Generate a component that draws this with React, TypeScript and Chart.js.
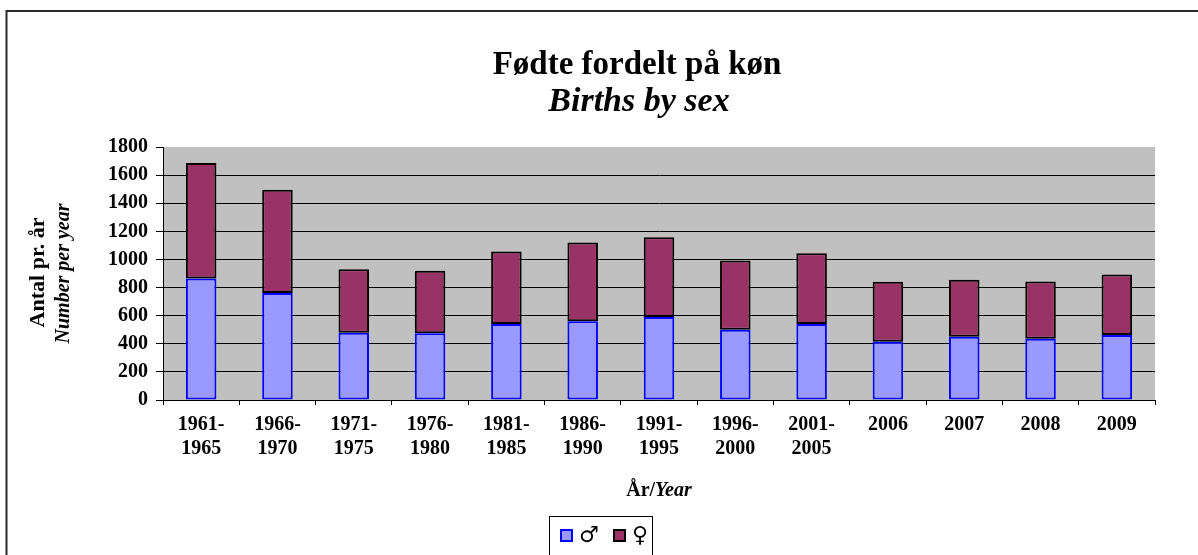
import React, { useEffect, useRef } from "react";
import { Chart, registerables } from "chart.js";

Chart.register(...registerables);

const categories: (string | string[])[] = [
  ["1961-", "1965"],
  ["1966-", "1970"],
  ["1971-", "1975"],
  ["1976-", "1980"],
  ["1981-", "1985"],
  ["1986-", "1990"],
  ["1991-", "1995"],
  ["1996-", "2000"],
  ["2001-", "2005"],
  "2006",
  "2007",
  "2008",
  "2009",
];
const male = [865, 762, 478, 475, 540, 561, 590, 500, 540, 414, 450, 436, 462];
const female = [822, 733, 452, 444, 516, 559, 568, 492, 504, 428, 405, 407, 430];
const seriesLabels = ["♂", "♀"];
const titleLines = ["Fødte fordelt på køn", "Births by sex"];
const yTitleLines = ["Antal pr. år", "Number per year"];
const xTitleParts = ["År/", "Year"];

const SERIF = '"Liberation Serif", "Times New Roman", serif';

const decorPlugin = {
  id: "decor",
  beforeDraw(chart: any) {
    const { ctx, chartArea, width, height } = chart;
    ctx.save();
    ctx.fillStyle = "#ffffff";
    ctx.fillRect(0, 0, width, height);
    ctx.fillStyle = "#C0C0C0";
    ctx.fillRect(chartArea.left, chartArea.top, chartArea.right - chartArea.left, chartArea.bottom - chartArea.top);
    ctx.restore();
  },
  afterDraw(chart: any) {
    const { ctx, chartArea } = chart;
    ctx.save();
    // outer border
    ctx.strokeStyle = "#2a2a2a";
    ctx.lineWidth = 2;
    ctx.beginPath();
    ctx.moveTo(6.5, 560);
    ctx.lineTo(6.5, 11);
    ctx.lineTo(1210, 11);
    ctx.stroke();

    // titles
    ctx.fillStyle = "#000";
    ctx.textAlign = "center";
    ctx.textBaseline = "alphabetic";
    ctx.font = `bold 33px ${SERIF}`;
    ctx.fillText(titleLines[0], 637, 74);
    ctx.font = `italic bold 34px ${SERIF}`;
    ctx.fillText(titleLines[1], 639, 111);

    // y title
    const cy = (chartArea.top + chartArea.bottom) / 2;
    ctx.save();
    ctx.translate(38, cy - 1);
    ctx.rotate(-Math.PI / 2);
    ctx.textBaseline = "middle";
    ctx.font = `bold 22px ${SERIF}`;
    ctx.fillText(yTitleLines[0], 0, 0);
    ctx.restore();
    ctx.save();
    ctx.translate(64, cy);
    ctx.rotate(-Math.PI / 2);
    ctx.textBaseline = "middle";
    ctx.font = `italic bold 20px ${SERIF}`;
    ctx.fillText(yTitleLines[1], 0, 0);
    ctx.restore();

    // x title
    const cx = (chartArea.left + chartArea.right) / 2;
    ctx.font = `bold 20px ${SERIF}`;
    const w1 = ctx.measureText(xTitleParts[0]).width;
    ctx.font = `italic bold 20px ${SERIF}`;
    const w2 = ctx.measureText(xTitleParts[1]).width;
    const x0 = cx - (w1 + w2) / 2;
    ctx.textAlign = "left";
    ctx.textBaseline = "alphabetic";
    ctx.font = `bold 20px ${SERIF}`;
    ctx.fillText(xTitleParts[0], x0, 496);
    ctx.font = `italic bold 20px ${SERIF}`;
    ctx.fillText(xTitleParts[1], x0 + w1, 496);

    // legend
    const ds = chart.data.datasets;
    ctx.strokeStyle = "#000";
    ctx.lineWidth = 1;
    ctx.strokeRect(549.5, 516.5, 103, 40);
    const items = [
      { bx: 560, tx: 579 },
      { bx: 613, tx: 632 },
    ];
    items.forEach((it, i) => {
      ctx.fillStyle = ds[i].backgroundColor;
      ctx.fillRect(it.bx, 529, 13, 13);
      ctx.strokeStyle = ds[i].borderColor;
      ctx.lineWidth = 2;
      ctx.strokeRect(it.bx + 1, 530, 11, 11);
      ctx.fillStyle = "#000";
      ctx.font = `22px "DejaVu Sans", sans-serif`;
      ctx.textBaseline = "middle";
      ctx.textAlign = "left";
      ctx.fillText(ds[i].label, it.tx, 536);
    });
    ctx.restore();
  },
};

export default function App() {
  const ref = useRef<HTMLCanvasElement | null>(null);
  useEffect(() => {
    document.body.style.margin = "0";
    const canvas = ref.current!;
    const chart = new Chart(canvas, {
      type: "bar",
      data: {
        labels: categories,
        datasets: [
          {
            label: seriesLabels[0],
            data: male,
            backgroundColor: "#9999FF",
            borderColor: "#0000FF",
            borderWidth: 2,
            borderSkipped: false,
          },
          {
            label: seriesLabels[1],
            data: female,
            backgroundColor: "#993366",
            borderColor: "#000000",
            borderWidth: 2,
            borderSkipped: false,
          },
        ],
      },
      options: {
        responsive: false,
        animation: false,
        layout: { padding: { left: 0, right: 43, top: 147, bottom: 0 } },
        datasets: { bar: { barPercentage: 0.4, categoryPercentage: 1.0 } },
        plugins: {
          legend: { display: false },
          title: { display: false },
          tooltip: { enabled: false },
        },
        scales: {
          x: {
            stacked: true,
            afterFit: (s: any) => {
              s.height = 155;
            },
            grid: {
              offset: true,
              drawOnChartArea: false,
              drawTicks: true,
              tickLength: 5,
              tickColor: "#000",
            },
            border: { display: true, color: "#000", width: 1 },
            ticks: {
              color: "#000",
              padding: 8,
              maxRotation: 0,
              autoSkip: false,
              font: { family: SERIF, size: 20, weight: "bold", lineHeight: 1.2 },
            },
          },
          y: {
            stacked: true,
            min: 0,
            max: 1800,
            afterFit: (s: any) => {
              s.width = 163;
            },
            grid: {
              color: (c: any) => (c.tick && c.tick.value === 1800 ? "rgba(0,0,0,0)" : "#000"),
              tickColor: "#000",
              tickLength: 7,
              lineWidth: 1,
            },
            border: { display: true, color: "#000", width: 1 },
            ticks: {
              stepSize: 200,
              color: "#000",
              padding: 8,
              callback: (v: any) => String(v),
              font: { family: SERIF, size: 20, weight: "bold" },
            },
          },
        },
      },
      plugins: [decorPlugin],
    });
    return () => chart.destroy();
  }, []);
  return <canvas ref={ref} width={1198} height={555} style={{ display: "block", width: 1198, height: 555 }} />;
}
